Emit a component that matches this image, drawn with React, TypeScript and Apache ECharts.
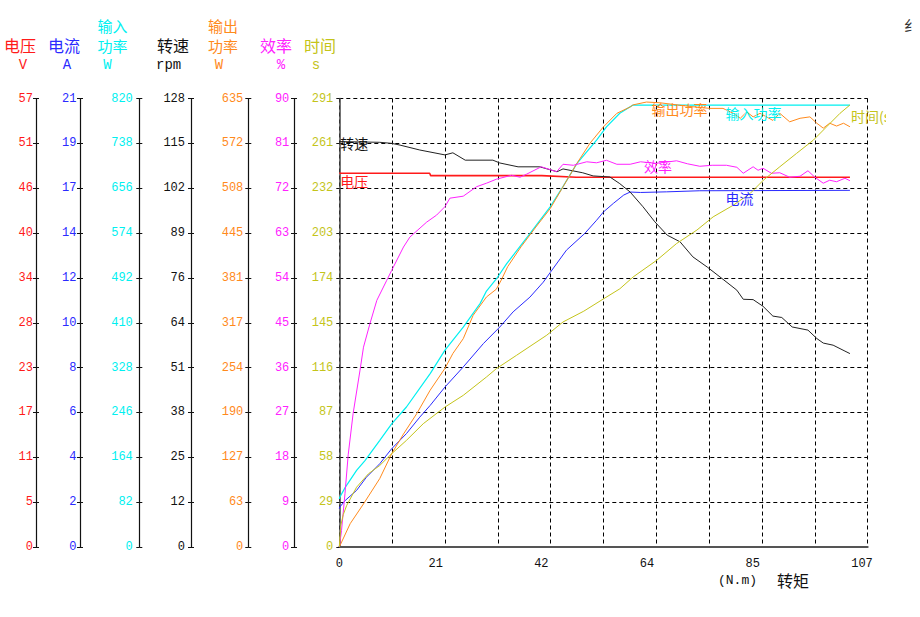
import React, { useEffect, useRef } from "react";
import * as echarts from "echarts";

// ---- tick labels (bottom -> top) ----
const torqueTicks = ["0", "21", "42", "64", "85", "107"];
const voltTicks = ["0", "5", "11", "17", "23", "28", "34", "40", "46", "51", "57"];
const currTicks = ["0", "2", "4", "6", "8", "10", "12", "14", "17", "19", "21"];
const pinTicks = ["0", "82", "164", "246", "328", "410", "492", "574", "656", "738", "820"];
const speedTicks = ["0", "12", "25", "38", "51", "64", "76", "89", "102", "115", "128"];
const poutTicks = ["0", "63", "127", "190", "254", "317", "381", "445", "508", "572", "635"];
const effTicks = ["0", "9", "18", "27", "36", "45", "54", "63", "72", "81", "90"];
const timeTicks = ["0", "29", "58", "87", "116", "145", "174", "203", "232", "261", "291"];

// ---- series data: [torque N.m, value] ----
const speedData = [
  [0, 115.7], [8.2, 115.5], [10.6, 115.2], [12.3, 114.7], [16.3, 113.3], [21.4, 111.9], [23.0, 112.5],
  [25.5, 110.4], [31.1, 110.4], [32.5, 109.6], [36.2, 108.5], [40.6, 108.5], [44.1, 107.1], [45.3, 107.9],
  [49.3, 106.8], [51.4, 105.9], [54.8, 105.6], [56.8, 103.7], [58.9, 101.3], [61.5, 97.1], [63.9, 92.8],
  [66.4, 89.0], [69.0, 87.1], [71.6, 82.8], [74.5, 79.9], [77.7, 76.4], [80.5, 73.3], [81.8, 70.7],
  [83.8, 70.6], [85.8, 68.7], [87.8, 65.9], [89.6, 65.5], [91.7, 62.8], [94.9, 61.9], [96.7, 59.5],
  [98.0, 58.2], [100.0, 57.6], [102.4, 55.9], [103.4, 55.2],
];
const voltData = [[0, 47.5], [18.3, 47.5], [18.5, 47.2], [41, 47.2], [48, 47.0], [103.4, 47.0]];
const effData = [
  [0, 0], [0.45, 3.3], [1.15, 10.7], [1.8, 18.5], [2.8, 26.8], [4.2, 35.5], [4.9, 40.1], [6.2, 44.8],
  [7.6, 49.5], [9.6, 53.5], [10.6, 55.5], [13.0, 60.2], [14.3, 62.2], [17.7, 65.2], [19.7, 66.6],
  [21.4, 68.3], [22.4, 70.0], [25.1, 70.4], [27.8, 72.3], [29.8, 73.0], [31.8, 73.8], [34.9, 74.6],
  [36.6, 74.2], [37.9, 74.8], [40.9, 76.3], [44.0, 75.3], [45.3, 76.8], [47.4, 76.6], [50.1, 77.3],
  [52.1, 77.1], [54.1, 77.6], [56.2, 76.8], [58.9, 76.8], [61.0, 77.3], [64, 77.0], [66, 77.2],
  [68.3, 77.5], [70.5, 76.9], [73.0, 76.4], [75.5, 76.6], [78.4, 76.6], [80.5, 76.2], [81.8, 75.0],
  [83.8, 76.3], [84.8, 75.6], [85.8, 76.0], [87.5, 75.0], [89.2, 75.1], [91.2, 74.2], [93.3, 74.4],
  [94.9, 75.5], [96.3, 74.2], [98.0, 73.0], [99.3, 73.6], [100.7, 73.3], [102.4, 74.0], [103.4, 73.5],
];
const pinData = [
  [0, 88], [0.1, 91], [1.2, 109], [3.5, 140], [5.2, 158], [8.2, 195], [10.6, 225], [13.6, 256],
  [18.4, 317], [21.4, 360], [25.1, 402], [28.5, 445], [29.8, 468], [31.8, 490], [33.9, 518], [38.6, 573],
  [42.7, 622], [45.3, 659], [48.1, 701], [52.1, 744], [54.1, 768], [56.8, 793], [58.9, 805], [59.5, 808],
  [103.4, 808],
];
const poutData = [
  [0, 0], [2.2, 33], [4.9, 61], [8.2, 97], [10.6, 132], [13.0, 160], [15.7, 189], [18.4, 222],
  [21.4, 253], [23.0, 274], [25.1, 295], [27.1, 328], [29.8, 354], [31.8, 365], [32.8, 378], [34.1, 397],
  [36.8, 425], [39.8, 453], [42.7, 479], [45.3, 510], [48.1, 543], [50.8, 572], [53.5, 595], [56.2, 614],
  [58.9, 623], [59.5, 626], [62.2, 630], [64.9, 629], [68.3, 626], [72, 623], [75.0, 621], [77.7, 621],
  [79.8, 614], [81.2, 607], [82.5, 616], [83.8, 609], [85.2, 614], [87.8, 604], [89.2, 614], [91.2, 602],
  [93.3, 607], [95.3, 609], [96.7, 600], [98.0, 593], [99.3, 600], [100.7, 596], [102.1, 600], [103.4, 595],
];
const currData = [
  [0, 1.8], [0.1, 1.87], [1.2, 2.18], [3.5, 2.65], [5.5, 3.27], [8.2, 3.9], [10.6, 4.6], [13.6, 5.31],
  [16.3, 6.08], [18.4, 6.63], [21.4, 7.49], [25.1, 8.43], [29.2, 9.53], [32.5, 10.3], [35.2, 11.01],
  [38.6, 11.7], [41.3, 12.4], [42.7, 12.85], [46.0, 13.9], [49.7, 14.68], [52.1, 15.3], [53.5, 15.69],
  [55.5, 16.09], [57.6, 16.48], [58.9, 16.62], [61.0, 16.6], [66.3, 16.63], [73.0, 16.68], [103.4, 16.7],
];
const timeData = [
  [0, 0], [0.3, 14], [0.8, 21], [1.5, 27], [3.5, 38.8], [5.9, 47.5], [8.2, 52.9], [10.6, 60.5],
  [13.6, 69.2], [17.0, 80.0], [21.4, 90.8], [25.1, 98.4], [29.8, 110.3], [31.8, 115.7], [35.9, 124.4],
  [42.0, 137.4], [45.3, 146], [49.5, 153], [53.5, 161], [56.8, 167.5], [59.5, 175.2], [64.3, 186.1],
  [68.3, 196.9], [72.4, 205.6], [75.7, 214.2], [79.8, 221.8], [83.2, 229.4], [85.9, 238.1], [89.2, 246.7],
  [92.6, 255.4], [96.0, 264.0], [98.7, 272.7], [101.4, 281.4], [103.4, 286.8],
];

const RED = "#ff1a1a";
const BLUE = "#2a2aff";
const CYAN = "#00f0f0";
const BLACK = "#111111";
const ORANGE = "#ff8a1c";
const MAGENTA = "#ff22ff";
const OLIVE = "#c4c41a";

const MONO = "Liberation Mono";
const CJK = "Noto Sans CJK SC";

const GRID_LEFT = 339.3;

export default function App() {
  const ref = useRef<HTMLDivElement>(null);

  useEffect(() => {
    const chart = echarts.init(ref.current!, null, { renderer: "svg" });

    const axisDefs = [
      { max: 57, labels: voltTicks, color: RED, x: 36, margin: 3 },
      { max: 21, labels: currTicks, color: BLUE, x: 80, margin: 3.5 },
      { max: 820, labels: pinTicks, color: CYAN, x: 139.3, margin: 6.5 },
      { max: 128, labels: speedTicks, color: BLACK, x: 191, margin: 6 },
      { max: 635, labels: poutTicks, color: ORANGE, x: 248.3, margin: 5 },
      { max: 90, labels: effTicks, color: MAGENTA, x: 294, margin: 4.7 },
      { max: 291, labels: timeTicks, color: OLIVE, x: GRID_LEFT, margin: 6 },
    ];

    const yAxes: any[] = axisDefs.map((d, i) => ({
      type: "value",
      position: "left",
      offset: GRID_LEFT - d.x,
      min: 0,
      max: d.max,
      interval: d.max / 10,
      axisLine: {
        show: true,
        onZero: false,
        lineStyle: { color: i === 6 ? "#444" : "#111", width: i === 6 ? 1.5 : 1.2 },
      },
      axisTick: { show: true, inside: false, length: 3, lineStyle: { color: "#111" } },
      axisLabel: {
        show: true,
        color: d.color,
        fontFamily: MONO,
        fontSize: 12,
        margin: d.margin,
        formatter: (v: number) => d.labels[Math.round(v / (d.max / 10))] ?? "",
      },
      splitLine:
        i === 6
          ? { show: true, lineStyle: { color: "#000", type: [4, 3], width: 1 } }
          : { show: false },
    }));
    // inner half of the crossing ticks
    axisDefs.slice(0, 6).forEach((d) => {
      yAxes.push({
        type: "value",
        position: "left",
        offset: GRID_LEFT - d.x,
        min: 0,
        max: d.max,
        interval: d.max / 10,
        axisLine: { show: false, onZero: false },
        axisTick: { show: true, inside: true, length: 3, lineStyle: { color: "#111" } },
        axisLabel: { show: false },
        splitLine: { show: false },
      });
    });

    const mkLabel = (text: string, coord: number[], color: string, dy: number) => ({
      symbol: "circle",
      symbolSize: 0,
      silent: true,
      data: [
        {
          coord,
          label: {
            show: true,
            position: "right",
            distance: 1,
            offset: [0, dy],
            formatter: text,
            color,
            fontFamily: CJK,
            fontSize: 14,
          },
        },
      ],
    });

    const line = (name: string, data: number[][], yIdx: number, color: string, width: number, mp: any) => ({
      name,
      type: "line",
      data,
      xAxisIndex: 0,
      yAxisIndex: yIdx,
      showSymbol: false,
      symbol: "none",
      clip: false,
      lineStyle: { color, width },
      itemStyle: { color },
      markPoint: mp,
      z: 3,
    });

    const series = [
      line("电压", voltData, 0, RED, 1.6, mkLabel("电压", [0, 47.5], RED, 8)),
      line("电流", currData, 1, BLUE, 1, mkLabel("电流", [78, 16.7], BLUE, 8)),
      line("输入功率", pinData, 2, CYAN, 1.2, mkLabel("输入功率", [78, 808], CYAN, 8)),
      line("转速", speedData, 3, "#222", 1, mkLabel("转速", [0, 115.7], BLACK, 1)),
      line("输出功率", poutData, 4, ORANGE, 1, mkLabel("输出功率", [63, 629], ORANGE, 6)),
      line("效率", effData, 5, MAGENTA, 1, mkLabel("效率", [61.5, 77], MAGENTA, 3)),
      line("时间", timeData, 6, OLIVE, 1, mkLabel("时间(s)", [103.4, 286.8], OLIVE, 11)),
    ];

    const hText = (text: string, x: number, y: number, color: string, font: string, size: number, align = "center") => ({
      type: "text",
      x,
      y,
      style: {
        text,
        fill: color,
        font: `${size}px "${font}"`,
        textAlign: align,
        textVerticalAlign: "middle",
      },
    });

    const graphic: any[] = [
      hText("电压", 20, 45, RED, CJK, 16),
      hText("V", 23, 65, RED, MONO, 14),
      hText("电流", 64, 45, BLUE, CJK, 16),
      hText("A", 67, 65, BLUE, MONO, 14),
      hText("输入", 112.5, 25, CYAN, CJK, 15),
      hText("功率", 112.5, 45, CYAN, CJK, 15),
      hText("W", 107.5, 65, CYAN, MONO, 14),
      hText("转速", 173, 45, BLACK, CJK, 16),
      hText("rpm", 156, 65, BLACK, MONO, 14, "left"),
      hText("输出", 223, 25, ORANGE, CJK, 15),
      hText("功率", 223, 45, ORANGE, CJK, 15),
      hText("W", 219, 65, ORANGE, MONO, 14),
      hText("效率", 276, 45, MAGENTA, CJK, 16),
      hText("%", 281, 65, MAGENTA, MONO, 14),
      hText("时间", 320, 45, OLIVE, CJK, 16),
      hText("s", 316, 65, OLIVE, MONO, 14),
      hText("(N.m)", 718, 580, BLACK, MONO, 13, "left"),
      hText("转矩", 777, 580, BLACK, CJK, 16, "left"),
      hText("纟", 904, 24, "#333", CJK, 15, "left"),
      {
        type: "rect",
        z: 100,
        shape: { x: 886, y: 104, width: 34, height: 26 },
        style: { fill: "#ffffff" },
      },
    ];

    const option: any = {
      animation: false,
      backgroundColor: "#ffffff",
      grid: { left: GRID_LEFT, right: 920 - 867.7, top: 98.5, bottom: 617 - 547, containLabel: false },
      xAxis: {
        type: "value",
        min: 0,
        max: 107,
        interval: 10.7,
        axisLine: { show: true, onZero: false, lineStyle: { color: "#555", width: 2 } },
        axisTick: { show: false },
        axisLabel: {
          color: BLACK,
          fontFamily: MONO,
          fontSize: 12,
          margin: 11,
          formatter: (v: number) => {
            const idx = Math.round(v / 10.7);
            if (idx % 2 !== 0) return "";
            const t = torqueTicks[idx / 2] ?? "";
            return idx === 0 ? `{z|${t}}` : `{a|${t}}`;
          },
          rich: {
            a: { width: 33, align: "left", color: BLACK, fontFamily: MONO, fontSize: 12 },
            z: { color: BLACK, fontFamily: MONO, fontSize: 12 },
          },
        },
        splitLine: { show: true, lineStyle: { color: "#000", type: [4, 3], width: 1 } },
      },
      yAxis: yAxes,
      series,
      graphic,
    };

    chart.setOption(option);
    return () => chart.dispose();
  }, []);

  return (
    <div
      ref={ref}
      style={{ position: "fixed", left: 0, top: 0, width: 920, height: 617, background: "#fff" }}
    />
  );
}
